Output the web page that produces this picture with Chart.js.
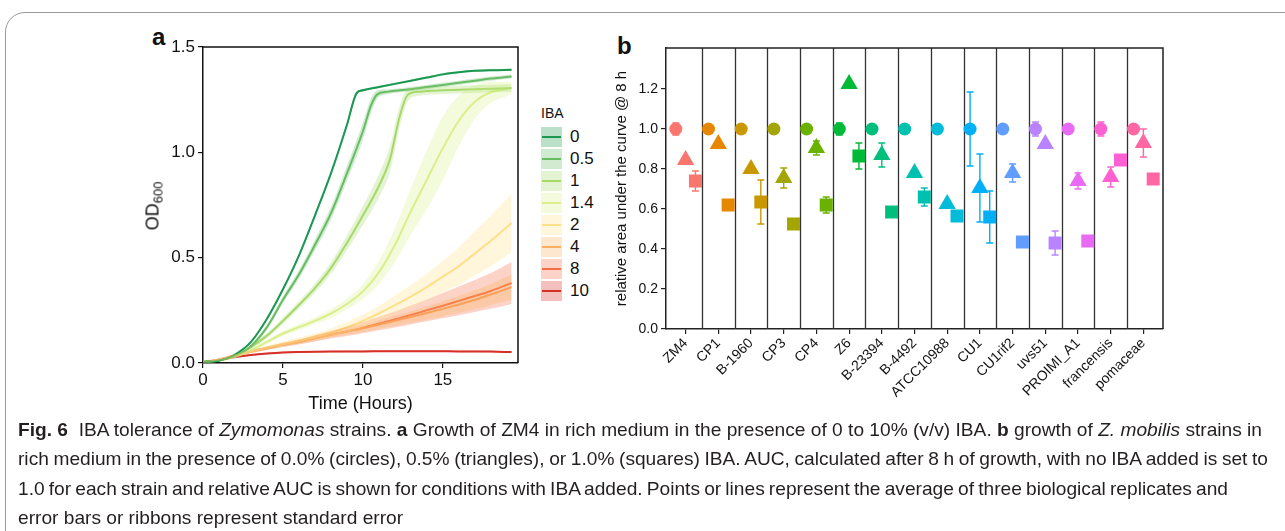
<!DOCTYPE html>
<html lang="en">
<head>
<meta charset="UTF-8">
<title>Fig. 6 IBA tolerance of Zymomonas strains</title>
<style>
  body {
    margin: 0;
    width: 1285px;
    height: 531px;
    overflow: hidden;
    position: relative;
    background: #fff;
    font-family: "Liberation Sans", Arial, sans-serif;
    color: #111;
  }
  .frame {
    position: absolute;
    left: 5px; top: 12px;
    width: 1400px; height: 600px;
    border: 1px solid #9a9a9a;
    border-radius: 20px;
  }
  canvas { position: absolute; }
  .panel-label {
    position: absolute;
    font-weight: bold;
    font-size: 24px;
    line-height: 24px;
  }
  #odTitle {
    position: absolute;
    left: 154px; top: 206px;
    font-size: 18px;
    white-space: nowrap;
    transform: translate(-50%, -50%) rotate(-90deg);
  }
  #odTitle sub { font-size: 13px; vertical-align: -4px; }
  #legendA { position: absolute; left: 541px; top: 105px; }
  #legendA .title { font-size: 14px; height: 21px; }
  .key-row { display: flex; align-items: center; height: 22px; }
  .key { position: relative; width: 21px; height: 20px; margin-right: 8px; }
  .key i { position: absolute; left: 1px; right: 1px; top: 9px; height: 2px; }
  .key-label { font-size: 17px; }
  #caption {
    position: absolute;
    left: 18px; top: 415px;
    font-size: 16px;
    line-height: 29.3px;
    color: #231f20;
  }
  #caption .line { white-space: nowrap; }
</style>
<script src="https://cdn.jsdelivr.net/npm/chart.js"></script>
</head>
<body>
<div class="frame"></div>

<div class="panel-label" style="left:152px;top:25px">a</div>
<canvas id="chartA" width="420" height="395" style="left:110px;top:30px"></canvas>
<div id="odTitle">OD<sub>600</sub></div>
<div id="legendA"><div class="title">IBA</div></div>

<div class="panel-label" style="left:617px;top:34px">b</div>
<canvas id="chartB" width="590" height="385" style="left:590px;top:30px"></canvas>

<div id="caption">
  <div class="line"><span><b>Fig. 6</b>&nbsp; IBA tolerance of <i>Zymomonas</i> strains. <b>a</b> Growth of ZM4 in rich medium in the presence of 0 to 10% (v/v) IBA. <b>b</b> growth of <i>Z. mobilis</i> strains in</span></div>
  <div class="line"><span>rich medium in the presence of 0.0% (circles), 0.5% (triangles), or 1.0% (squares) IBA. AUC, calculated after 8 h of growth, with no IBA added is set to</span></div>
  <div class="line"><span>1.0 for each strain and relative AUC is shown for conditions with IBA added. Points or lines represent the average of three biological replicates and</span></div>
  <div class="line"><span>error bars or ribbons represent standard error</span></div>
</div>

<script>
// ---- panel a: growth curves (OD600 vs hours), mean and standard error ----
const ibaLevels = ['0', '0.5', '1', '1.4', '2', '4', '8', '10'];
const ibaColors = ['#1a9850', '#66bd63', '#a6d96a', '#d9ef8b', '#fee08b', '#fdae61', '#f46d43', '#d73027'];

const hours0  = [0, 1, 2, 3, 4, 5, 6, 7, 8, 9, 9.6, 10, 11, 12, 13, 14, 15, 16, 17, 18, 19.3];
const od0     = [0.005, 0.012, 0.04, 0.1, 0.21, 0.35, 0.51, 0.7, 0.9, 1.13, 1.28, 1.295, 1.31, 1.325, 1.34, 1.355, 1.37, 1.38, 1.387, 1.39, 1.392];
const se0     = [0.002, 0.003, 0.004, 0.005, 0.006, 0.007, 0.008, 0.009, 0.01, 0.012, 0.01, 0.006, 0.005, 0.005, 0.005, 0.005, 0.005, 0.005, 0.005, 0.005, 0.005];

const hours05 = [0, 1, 2, 3, 4, 5, 6, 7, 8, 9, 10, 10.5, 10.9, 11.5, 12, 13, 14, 15, 16, 17, 18, 19.3];
const od05    = [0.005, 0.012, 0.035, 0.08, 0.17, 0.3, 0.42, 0.56, 0.71, 0.9, 1.1, 1.22, 1.275, 1.287, 1.292, 1.3, 1.31, 1.32, 1.33, 1.34, 1.35, 1.36];
const se05    = [0.002, 0.003, 0.005, 0.008, 0.012, 0.016, 0.02, 0.025, 0.03, 0.035, 0.04, 0.035, 0.02, 0.012, 0.01, 0.01, 0.01, 0.01, 0.01, 0.01, 0.01, 0.01];

const hours1  = [0, 1, 2, 3, 4, 5, 6, 7, 8, 9, 10, 11, 11.7, 12.3, 12.8, 13.5, 15, 17, 19.3];
const od1     = [0.005, 0.012, 0.033, 0.075, 0.13, 0.2, 0.275, 0.355, 0.45, 0.57, 0.7, 0.84, 0.97, 1.17, 1.272, 1.288, 1.295, 1.3, 1.305];
const se1     = [0.002, 0.003, 0.005, 0.008, 0.012, 0.015, 0.018, 0.022, 0.028, 0.035, 0.045, 0.055, 0.06, 0.05, 0.03, 0.02, 0.018, 0.018, 0.018];

const hoursHourly = [0, 1, 2, 3, 4, 5, 6, 7, 8, 9, 10, 11, 12, 13, 14, 15, 16, 17, 18, 19.3];
const od14    = [0.005, 0.012, 0.03, 0.06, 0.1, 0.14, 0.17, 0.2, 0.235, 0.28, 0.34, 0.43, 0.56, 0.72, 0.87, 1.02, 1.15, 1.24, 1.285, 1.305];
const se14    = [0.002, 0.003, 0.005, 0.008, 0.01, 0.012, 0.014, 0.016, 0.02, 0.025, 0.035, 0.055, 0.08, 0.11, 0.14, 0.15, 0.12, 0.08, 0.05, 0.03];
const od2     = [0.005, 0.016, 0.035, 0.055, 0.073, 0.09, 0.107, 0.125, 0.145, 0.17, 0.2, 0.235, 0.275, 0.315, 0.36, 0.41, 0.46, 0.52, 0.58, 0.665];
const se2     = [0.002, 0.004, 0.006, 0.008, 0.01, 0.012, 0.014, 0.016, 0.02, 0.025, 0.03, 0.035, 0.045, 0.055, 0.065, 0.075, 0.09, 0.105, 0.12, 0.14];
const od4     = [0.005, 0.016, 0.035, 0.055, 0.07, 0.086, 0.1, 0.117, 0.135, 0.15, 0.165, 0.183, 0.2, 0.218, 0.237, 0.257, 0.278, 0.3, 0.325, 0.36];
const se4     = [0.002, 0.004, 0.006, 0.007, 0.008, 0.009, 0.01, 0.012, 0.014, 0.016, 0.018, 0.02, 0.024, 0.028, 0.032, 0.036, 0.04, 0.045, 0.05, 0.06];
const od8     = [0.005, 0.016, 0.035, 0.055, 0.07, 0.086, 0.1, 0.117, 0.134, 0.15, 0.168, 0.187, 0.207, 0.228, 0.25, 0.272, 0.295, 0.318, 0.342, 0.38];
const se8     = [0.002, 0.004, 0.006, 0.007, 0.008, 0.01, 0.012, 0.015, 0.018, 0.022, 0.027, 0.032, 0.038, 0.045, 0.052, 0.06, 0.068, 0.076, 0.085, 0.1];

const hours10 = [0, 1, 2, 3, 4, 5, 6, 8, 10, 12, 14, 16, 18, 19.3];
const od10    = [0.003, 0.015, 0.028, 0.038, 0.045, 0.05, 0.052, 0.054, 0.055, 0.056, 0.056, 0.055, 0.054, 0.052];
const se10    = [0.002, 0.003, 0.004, 0.004, 0.004, 0.004, 0.004, 0.004, 0.004, 0.004, 0.004, 0.004, 0.004, 0.004];

const hoursA = [hours0, hours05, hours1, hoursHourly, hoursHourly, hoursHourly, hoursHourly, hours10];
const odA    = [od0, od05, od1, od14, od2, od4, od8, od10];
const seA    = [se0, se05, se1, se14, se2, se4, se8, se10];

const xTicksA = [0, 5, 10, 15];
const yTicksA = [0, 0.5, 1, 1.5];

// ---- panel b: relative AUC per strain ----
const strains = ['ZM4', 'CP1', 'B-1960', 'CP3', 'CP4', 'Z6', 'B-23394', 'B-4492', 'ATCC10988',
                 'CU1', 'CU1rif2', 'uvs51', 'PROIMI_A1', 'francensis', 'pomaceae'];
const strainColors = ['#F8766D', '#E58700', '#C99800', '#A3A500', '#6BB100', '#00BA38', '#00BF7D', '#00C0AF',
                      '#00BCD8', '#00B0F6', '#619CFF', '#B983FF', '#E76BF3', '#FD61D1', '#FF67A4'];
const auc00 = [1, 1, 1, 1, 1, 1, 1, 1, 1, 1, 1, 1, 1, 1, 1];
const err00 = [0.03, 0, 0, 0, 0, 0.03, 0, 0, 0, 0.185, 0, 0.035, 0, 0.035, 0];
const auc05 = [0.845, 0.925, 0.8, 0.755, 0.905, 1.225, 0.87, 0.78, 0.625, 0.705, 0.78, 0.925, 0.74, 0.76, 0.93];
const err05 = [0, 0, 0, 0.05, 0.035, 0, 0.06, 0, 0, 0.17, 0.045, 0, 0.04, 0.05, 0.07];
const auc10 = [0.74, 0.62, 0.635, 0.525, 0.62, 0.865, 0.585, 0.66, 0.565, 0.56, 0.435, 0.43, 0.44, 0.845, 0.75];
const err10 = [0.05, 0, 0.11, 0, 0.04, 0.065, 0.015, 0.045, 0.025, 0.13, 0.01, 0.06, 0.025, 0, 0];
const yTicksB = [0, 0.2, 0.4, 0.6, 0.8, 1.0, 1.2];

// printed widths of the caption lines (last line keeps its natural spacing)
const captionWidths = [1244, 1250, 1210, null];

Chart.defaults.font.family = '"Liberation Sans", Arial, sans-serif';
Chart.defaults.color = '#111';

function withAlpha(hex, a) {
    const n = parseInt(hex.slice(1), 16);
    return `rgba(${n >> 16},${(n >> 8) & 255},${n & 255},${a})`;
}

// top and right edges of the plotting box
const boxPlugin = {
    id: 'box',
    afterDatasetsDraw(chart, args, opts) {
        const {ctx, chartArea: a} = chart;
        ctx.save();
        ctx.strokeStyle = opts.color;
        ctx.lineWidth = 1.5;
        ctx.beginPath();
        ctx.moveTo(a.left, a.top);
        ctx.lineTo(a.right, a.top);
        ctx.lineTo(a.right, a.bottom);
        ctx.stroke();
        ctx.restore();
    }
};

// ----- chart a -----
const datasetsA = [];
ibaLevels.forEach((lvl, k) => {
    const hrs = hoursA[k], m = odA[k], e = seA[k];
    const common = {pointRadius: 0, cubicInterpolationMode: 'monotone', borderWidth: 1, borderColor: 'rgba(0,0,0,0)'};
    datasetsA.push({...common, label: lvl + ' low', fill: false,
        data: hrs.map((h, i) => ({x: h, y: m[i] - e[i]}))});
    datasetsA.push({...common, label: lvl + ' high', fill: '-1', backgroundColor: withAlpha(ibaColors[k], 0.3),
        data: hrs.map((h, i) => ({x: h, y: m[i] + e[i]}))});
});
ibaLevels.forEach((lvl, k) => {
    datasetsA.push({
        label: lvl, fill: false, pointRadius: 0, cubicInterpolationMode: 'monotone',
        borderColor: ibaColors[k], borderWidth: 2,
        data: hoursA[k].map((h, i) => ({x: h, y: odA[k][i]}))
    });
});

new Chart(document.getElementById('chartA'), {
    type: 'line',
    data: {datasets: datasetsA},
    options: {
        responsive: false,
        animation: false,
        devicePixelRatio: 1,
        layout: {padding: {top: 17, right: 12, left: 0, bottom: 0}},
        plugins: {legend: {display: false}, tooltip: {enabled: false}, box: {color: '#111'}},
        scales: {
            x: {
                type: 'linear', min: 0, max: 19.7,
                afterBuildTicks: s => { s.ticks = xTicksA.map(v => ({value: v})); },
                afterFit: s => { s.height = 62; },
                ticks: {font: {size: 17}, color: '#111', padding: 2, callback: v => v},
                grid: {drawOnChartArea: false, drawTicks: true, tickLength: 5, color: '#111', lineWidth: 1.2},
                border: {color: '#111', width: 1.5},
                title: {display: true, text: 'Time (Hours)', font: {size: 18}, color: '#111', padding: {top: 0, bottom: 10}}
            },
            y: {
                min: 0, max: 1.5,
                afterBuildTicks: s => { s.ticks = yTicksA.map(v => ({value: v})); },
                afterFit: s => { s.width = 93; },
                ticks: {font: {size: 17}, color: '#111', padding: 3, callback: v => v.toFixed(1)},
                grid: {drawOnChartArea: false, drawTicks: true, tickLength: 5, color: '#111', lineWidth: 1.2},
                border: {color: '#111', width: 1.5}
            }
        }
    },
    plugins: [boxPlugin]
});

// legend for panel a
const legendA = document.getElementById('legendA');
ibaLevels.forEach((lvl, k) => {
    const row = document.createElement('div');
    row.className = 'key-row';
    row.innerHTML = `<span class="key" style="background:${withAlpha(ibaColors[k], 0.3)}"><i style="background:${ibaColors[k]}"></i></span><span class="key-label">${lvl}</span>`;
    legendA.appendChild(row);
});

// ----- chart b -----
const facetPlugin = {
    id: 'facets',
    beforeDatasetsDraw(chart) {
        const {ctx, chartArea: a, scales: {x}} = chart;
        ctx.save();
        ctx.strokeStyle = '#333';
        ctx.lineWidth = 1.3;
        ctx.beginPath();
        for (let i = 1; i < strains.length; i++) {
            const px = Math.round(x.getPixelForValue(i)) + 0.5;
            ctx.moveTo(px, a.top);
            ctx.lineTo(px, a.bottom);
        }
        ctx.stroke();
        ctx.restore();
    }
};

const errorBarPlugin = {
    id: 'errorBars',
    afterDatasetsDraw(chart) {
        const {ctx, scales: {x, y}} = chart;
        chart.data.datasets.forEach(ds => {
            ctx.save();
            ctx.lineWidth = 1.4;
            ds.data.forEach((p, i) => {
                const e = ds.errors[i];
                if (!e) return;
                const px = x.getPixelForValue(p.x);
                const top = y.getPixelForValue(p.y + e);
                const bot = y.getPixelForValue(p.y - e);
                ctx.strokeStyle = ds.backgroundColor[i];
                ctx.beginPath();
                ctx.moveTo(px, top); ctx.lineTo(px, bot);
                ctx.moveTo(px - 3.5, top); ctx.lineTo(px + 3.5, top);
                ctx.moveTo(px - 3.5, bot); ctx.lineTo(px + 3.5, bot);
                ctx.stroke();
            });
            ctx.restore();
        });
    }
};

function aucSet(label, values, errors, offset, style, radius) {
    return {
        label, errors,
        data: values.map((v, i) => ({x: i + offset, y: v})),
        pointStyle: style, pointRadius: radius,
        backgroundColor: strainColors, borderWidth: 0, showLine: false
    };
}

new Chart(document.getElementById('chartB'), {
    type: 'scatter',
    data: {datasets: [
        aucSet('0.0%', auc00, err00, 0.2, 'circle', 6.5),
        aucSet('0.5%', auc05, err05, 0.5, 'triangle', 10),
        aucSet('1.0%', auc10, err10, 0.8, 'rect', 9.2)
    ]},
    options: {
        responsive: false,
        animation: false,
        devicePixelRatio: 1,
        layout: {padding: {top: 18, right: 17, left: 0, bottom: 0}},
        plugins: {legend: {display: false}, tooltip: {enabled: false}, box: {color: '#222'}},
        scales: {
            x: {
                type: 'linear', min: -0.1, max: strains.length + 0.1,
                afterBuildTicks: s => { s.ticks = strains.map((_, i) => ({value: i + 0.5})); },
                afterFit: s => { s.height = 86; },
                ticks: {font: {size: 14}, color: '#111', autoSkip: false, minRotation: 45, maxRotation: 45, padding: 1,
                        callback: (v, i) => strains[i]},
                grid: {drawOnChartArea: false, drawTicks: true, tickLength: 5, color: '#222', lineWidth: 1.2},
                border: {color: '#222', width: 1.5}
            },
            y: {
                min: 0, max: 1.405,
                afterBuildTicks: s => { s.ticks = yTicksB.map(v => ({value: v})); },
                afterFit: s => { s.width = 76; },
                ticks: {font: {size: 14}, color: '#111', padding: 3, callback: v => v.toFixed(1)},
                grid: {drawOnChartArea: false, drawTicks: true, tickLength: 5, color: '#222', lineWidth: 1.2},
                border: {color: '#222', width: 1.5},
                title: {display: true, text: 'relative area under the curve @ 8 h', font: {size: 15}, color: '#111',
                        padding: {top: 23, bottom: 0}}
            }
        }
    },
    plugins: [facetPlugin, errorBarPlugin, boxPlugin]
});

// caption: font size from the first line, word spacing so each line ends where the printed one does
const caption = document.getElementById('caption');
const lines = [...caption.querySelectorAll('.line span')];
const natural = lines[0].getBoundingClientRect().width;
caption.style.fontSize = (16 * captionWidths[0] / natural).toFixed(2) + 'px';
lines.forEach((span, i) => {
    if (!captionWidths[i]) return;
    const gaps = (span.textContent.match(/ /g) || []).length;
    const extra = captionWidths[i] - span.getBoundingClientRect().width;
    if (gaps) span.style.wordSpacing = (extra / gaps).toFixed(3) + 'px';
});
</script>
</body>
</html>
